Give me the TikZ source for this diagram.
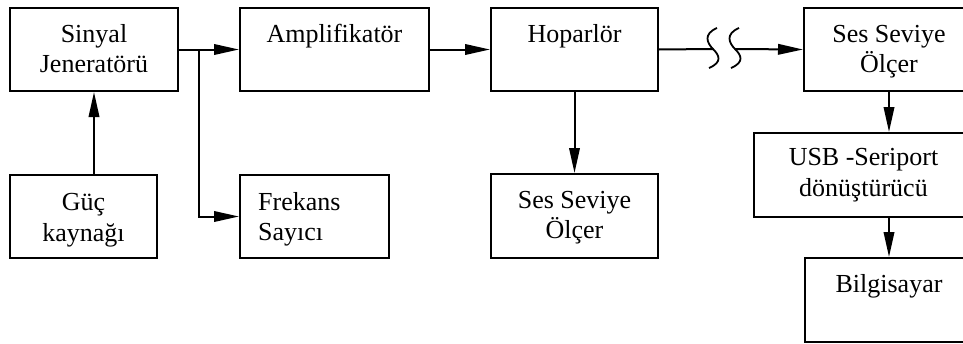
\documentclass[tikz,border=0pt]{standalone}
\usepackage{fontspec}
\setmainfont{Liberation Serif}
\usetikzlibrary{arrows.meta}
\tikzset{
  box/.style={draw, line width=2pt, anchor=north west, inner sep=0pt},
  txt/.style={anchor=base, inner sep=0pt, font=\fontsize{26}{30}\selectfont},
  txtl/.style={anchor=base west, inner sep=0pt, font=\fontsize{26}{30}\selectfont},
  conn/.style={line width=2pt},
  arr/.style={line width=2pt, -{Triangle[length=25pt,width=10.5pt]}},
  squig/.style={line width=1.8pt}
}
\begin{document}
\begin{tikzpicture}[x=1pt,y=-1pt]
\useasboundingbox (0,0) rectangle (963,343);
\clip (0,0) rectangle (963,343);
% boxes
\node[box, minimum width=168pt, minimum height=83pt] (sj) at (9,7) {};
\node[box, minimum width=189pt, minimum height=83pt] (amp) at (239,7) {};
\node[box, minimum width=167pt, minimum height=83pt] (hop) at (490,7) {};
\node[box, minimum width=170pt, minimum height=83pt] (ses1) at (803,7) {};
\node[box, minimum width=147pt, minimum height=83pt] (guc) at (9,174) {};
\node[box, minimum width=149pt, minimum height=83pt] (frek) at (239,174) {};
\node[box, minimum width=167pt, minimum height=84pt] (ses2) at (490,173) {};
\node[box, minimum width=219pt, minimum height=84pt] (usb) at (753,132) {};
\node[box, minimum width=168pt, minimum height=84pt] (bil) at (804,257) {};
% texts
\node[txt] (sjA) at ([yshift=-35pt]sj.north) {Sinyal};
\node[txt] (sjB) at ([yshift=-65pt]sj.north) {Jeneratörü};
\node[txt] (ampA) at ([yshift=-35pt]amp.north) {Amplifikatör};
\node[txt] (hopA) at ([yshift=-35pt]hop.north) {Hoparlör};
\node[txt] (ses1A) at ([yshift=-35pt]ses1.north) {Ses Seviye};
\node[txt] (ses1B) at ([yshift=-65pt]ses1.north) {Ölçer};
\node[txt] (gucA) at ([yshift=-36pt]guc.north) {Güç};
\node[txt] (gucB) at ([yshift=-67pt]guc.north) {kaynağı};
\node[txtl] (frekA) at ([xshift=19pt,yshift=-36pt]frek.north west) {Frekans};
\node[txtl] (frekB) at ([xshift=19pt,yshift=-66pt]frek.north west) {Sayıcı};
\node[txt] (ses2A) at ([yshift=-35pt]ses2.north) {Ses Seviye};
\node[txt] (ses2B) at ([yshift=-65pt]ses2.north) {Ölçer};
\node[txt] (usbA) at ([yshift=-33pt]usb.north) {USB -Seriport};
\node[txt] (usbB) at ([yshift=-64pt]usb.north) {dönüştürücü};
\node[txt] (bilA) at ([yshift=-35pt]bil.north) {Bilgisayar};
% connectors
\coordinate (br) at (199,49);
\draw[arr] (sj.east) -- (amp.west);
\draw[arr] (br) |- (frek.west);
\draw[arr] (amp.east) -- (hop.west);
\draw[arr] (sj.south |- guc.north) -- (sj.south);
\draw[arr] (hop.south) -- (ses2.north);
\coordinate (sq1) at (713,49);
\coordinate (sq2) at (735,49);
\draw[conn] (hop.east) -- (sq1);
\draw[arr] (sq2) -- (ses1.west);
\draw[squig] (717,28) .. controls (703,34) and (707,43) .. (713,49) .. controls (719,55) and (723,62) .. (709,68);
\draw[squig] (739,28) .. controls (725,34) and (729,43) .. (735,49) .. controls (741,55) and (745,62) .. (731,68);
\draw[arr] (ses1.south) -- (ses1.south |- usb.north);
\draw[arr] (bil.north |- usb.south) -- (bil.north);
\end{tikzpicture}
\end{document}
